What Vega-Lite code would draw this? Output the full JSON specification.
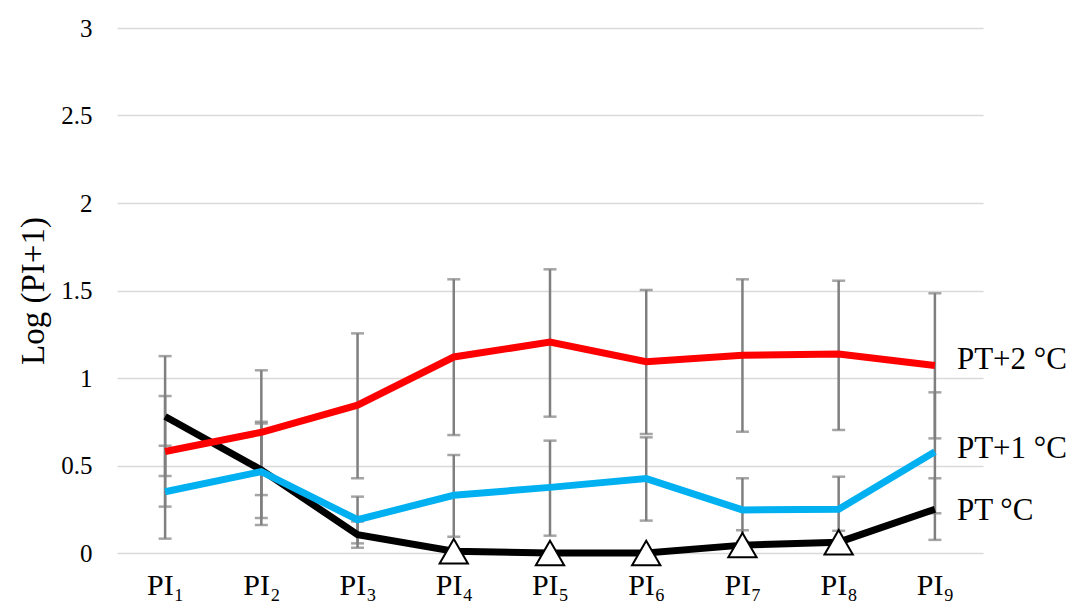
{
  "$schema": "https://vega.github.io/schema/vega-lite/v6.json",
  "width": 866,
  "height": 525,
  "autosize": "none",
  "padding": {"left": 117, "top": 28, "right": 90, "bottom": 49},
  "background": "white",
  "config": {
    "view": {"stroke": null},
    "font": "Liberation Serif",
    "axis": {"labelFont": "Liberation Serif", "titleFont": "Liberation Serif", "labelColor": "black", "titleColor": "black"}
  },
  "datasets": {
    "series": [
      {"pi": "PI₁", "series": "PT °C", "mean": 0.78, "lo": 0.44, "hi": 1.125, "marker": false},
      {"pi": "PI₂", "series": "PT °C", "mean": 0.475, "lo": 0.2, "hi": 0.75, "marker": false},
      {"pi": "PI₃", "series": "PT °C", "mean": 0.105, "lo": 0.03, "hi": 0.18, "marker": false},
      {"pi": "PI₄", "series": "PT °C", "mean": 0.01, "lo": 0.01, "hi": 0.01, "marker": true},
      {"pi": "PI₅", "series": "PT °C", "mean": 0.0, "lo": 0.0, "hi": 0.0, "marker": true},
      {"pi": "PI₆", "series": "PT °C", "mean": 0.0, "lo": 0.0, "hi": 0.0, "marker": true},
      {"pi": "PI₇", "series": "PT °C", "mean": 0.045, "lo": 0.0, "hi": 0.13, "marker": true},
      {"pi": "PI₈", "series": "PT °C", "mean": 0.062, "lo": 0.0, "hi": 0.127, "marker": true},
      {"pi": "PI₉", "series": "PT °C", "mean": 0.25, "lo": 0.075, "hi": 0.427, "marker": false},
      {"pi": "PI₁", "series": "PT+1 °C", "mean": 0.35, "lo": 0.082, "hi": 0.613, "marker": false},
      {"pi": "PI₂", "series": "PT+1 °C", "mean": 0.465, "lo": 0.16, "hi": 0.74, "marker": false},
      {"pi": "PI₃", "series": "PT+1 °C", "mean": 0.19, "lo": 0.055, "hi": 0.322, "marker": false},
      {"pi": "PI₄", "series": "PT+1 °C", "mean": 0.33, "lo": 0.093, "hi": 0.56, "marker": false},
      {"pi": "PI₅", "series": "PT+1 °C", "mean": 0.375, "lo": 0.099, "hi": 0.642, "marker": false},
      {"pi": "PI₆", "series": "PT+1 °C", "mean": 0.425, "lo": 0.185, "hi": 0.661, "marker": false},
      {"pi": "PI₇", "series": "PT+1 °C", "mean": 0.246, "lo": 0.065, "hi": 0.427, "marker": false},
      {"pi": "PI₈", "series": "PT+1 °C", "mean": 0.25, "lo": 0.065, "hi": 0.436, "marker": false},
      {"pi": "PI₉", "series": "PT+1 °C", "mean": 0.578, "lo": 0.227, "hi": 0.918, "marker": false},
      {"pi": "PI₁", "series": "PT+2 °C", "mean": 0.58, "lo": 0.265, "hi": 0.897, "marker": false},
      {"pi": "PI₂", "series": "PT+2 °C", "mean": 0.69, "lo": 0.331, "hi": 1.044, "marker": false},
      {"pi": "PI₃", "series": "PT+2 °C", "mean": 0.845, "lo": 0.427, "hi": 1.255, "marker": false},
      {"pi": "PI₄", "series": "PT+2 °C", "mean": 1.12, "lo": 0.674, "hi": 1.564, "marker": false},
      {"pi": "PI₅", "series": "PT+2 °C", "mean": 1.205, "lo": 0.779, "hi": 1.621, "marker": false},
      {"pi": "PI₆", "series": "PT+2 °C", "mean": 1.093, "lo": 0.68, "hi": 1.503, "marker": false},
      {"pi": "PI₇", "series": "PT+2 °C", "mean": 1.13, "lo": 0.693, "hi": 1.564, "marker": false},
      {"pi": "PI₈", "series": "PT+2 °C", "mean": 1.137, "lo": 0.703, "hi": 1.556, "marker": false},
      {"pi": "PI₉", "series": "PT+2 °C", "mean": 1.072, "lo": 0.655, "hi": 1.484, "marker": false}
    ],
    "labels": [
      {"pi": "PI₉", "label": "PT+2 °C", "ly": 1.103},
      {"pi": "PI₉", "label": "PT+1 °C", "ly": 0.596},
      {"pi": "PI₉", "label": "PT °C", "ly": 0.242}
    ]
  },
  "encoding": {
    "x": {
      "field": "pi",
      "type": "ordinal",
      "scale": {"type": "point", "domain": ["PI₁", "PI₂", "PI₃", "PI₄", "PI₅", "PI₆", "PI₇", "PI₈", "PI₉"], "padding": 0.5},
      "axis": {"title": null, "labelAngle": 0, "domain": false, "ticks": false, "grid": false, "labelFont": "Liberation Serif", "labelFontSize": 30, "labelPadding": 17}
    }
  },
  "layer": [
    {
      "data": {"name": "series"},
      "mark": {"type": "rule", "color": "#7f7f7f", "strokeWidth": 2.5},
      "encoding": {
        "y": {
          "field": "lo",
          "type": "quantitative",
          "scale": {"domain": [0, 3]},
          "axis": {
            "values": [0, 0.5, 1, 1.5, 2, 2.5, 3],
            "format": "~g",
            "title": "Log (PI+1)",
            "titleFont": "Liberation Serif",
            "titleFontSize": 33,
            "titleFontWeight": "normal",
            "titlePadding": 10,
            "labelFont": "Liberation Serif",
            "labelFontSize": 25,
            "labelPadding": 25,
            "domain": false,
            "ticks": false,
            "grid": true,
            "gridColor": "#d9d9d9",
            "gridWidth": 1.5
          }
        },
        "y2": {"field": "hi"}
      }
    },
    {
      "data": {"name": "series"},
      "mark": {"type": "tick", "color": "#7f7f7f", "size": 13, "thickness": 2.5},
      "encoding": {"y": {"field": "lo", "type": "quantitative"}}
    },
    {
      "data": {"name": "series"},
      "mark": {"type": "tick", "color": "#7f7f7f", "size": 13, "thickness": 2.5},
      "encoding": {"y": {"field": "hi", "type": "quantitative"}}
    },
    {
      "data": {"name": "series"},
      "mark": {"type": "line", "strokeWidth": 7},
      "encoding": {
        "y": {"field": "mean", "type": "quantitative"},
        "color": {
          "field": "series",
          "type": "nominal",
          "scale": {"domain": ["PT °C", "PT+1 °C", "PT+2 °C"], "range": ["#000000", "#00b0f0", "#ff0000"]},
          "legend": null
        }
      }
    },
    {
      "data": {"name": "series"},
      "transform": [{"filter": "datum.marker"}],
      "mark": {"type": "point", "shape": "triangle-up", "size": 800, "filled": true, "fill": "white", "stroke": "black", "strokeWidth": 2, "opacity": 1},
      "encoding": {"y": {"field": "mean", "type": "quantitative"}}
    },
    {
      "data": {"name": "labels"},
      "mark": {"type": "text", "align": "left", "baseline": "middle", "dx": 22, "fontSize": 31, "font": "Liberation Serif", "color": "black"},
      "encoding": {
        "y": {"field": "ly", "type": "quantitative"},
        "text": {"field": "label"}
      }
    }
  ]
}
